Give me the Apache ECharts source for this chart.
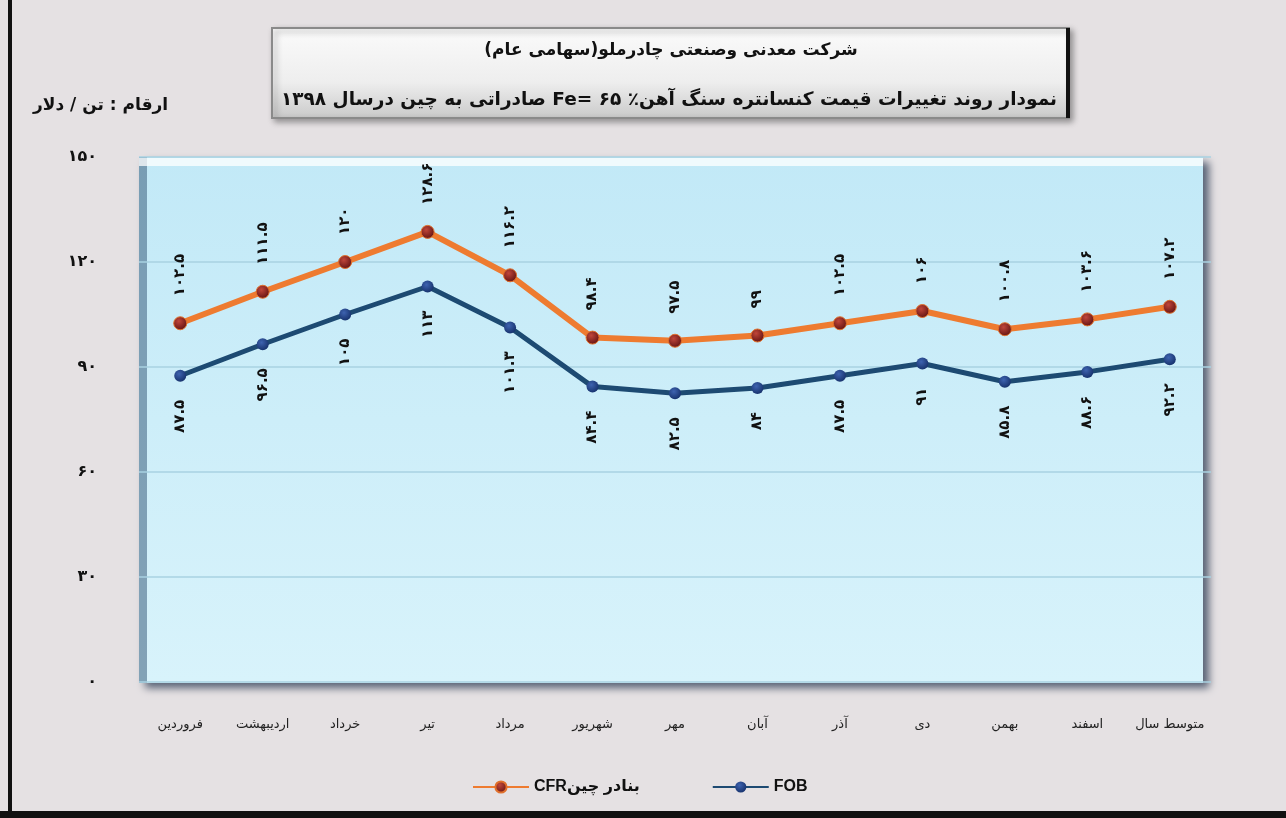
<!DOCTYPE html>
<html>
<head>
<meta charset="utf-8">
<script src="https://cdn.jsdelivr.net/npm/echarts@6/dist/echarts.min.js"></script>
<style>
  html, body { margin: 0; padding: 0; background: #e5e1e3; }
  #chart { width: 1286px; height: 818px; }
</style>
</head>
<body>
<div id="chart"></div>
<script>
// data (1398, iron ore concentrate price, $/t)
const categories = ['فروردین', 'اردیبهشت', 'خرداد', 'تیر', 'مرداد', 'شهریور', 'مهر', 'آبان', 'آذر', 'دی', 'بهمن', 'اسفند', 'متوسط سال'];
const cfrValues = [102.5, 111.5, 120, 128.6, 116.2, 98.4, 97.5, 99, 102.5, 106, 100.8, 103.6, 107.2];
const fobValues = [87.5, 96.5, 105, 113, 101.3, 84.4, 82.5, 84, 87.5, 91, 85.8, 88.6, 92.2];
const cfrName = 'بنادر چینCFR';
const fobName = 'FOB';
const titleLine1 = 'شرکت معدنی وصنعتی چادرملو(سهامی عام)';
const titleLine2 = 'نمودار روند تغییرات قیمت کنسانتره سنگ آهن٪ ۶۵ =Fe صادراتی به چین درسال ۱۳۹۸';
const unitText = 'ارقام : تن / دلار';

const FA = '۰۱۲۳۴۵۶۷۸۹';
function toFa(v) {
  return String(v).replace(/\d/g, function (d) { return FA[d]; });
}
// right-to-left embedding for mixed Persian/Latin strings
function rtl(s) {
  return '\u202B' + s + '\u202C';
}

const faFont = "'DejaVu Sans', sans-serif";

var chart = echarts.init(document.getElementById('chart'));

var option = {
  backgroundColor: '#e5e1e3',
  animation: false,
  textStyle: { fontFamily: faFont },
  grid: { left: 139, right: 75, top: 157, bottom: 136 },
  legend: {
    data: [rtl(cfrName), fobName],
    left: 467,
    top: 774,
    itemWidth: 56,
    itemHeight: 14,
    itemGap: 72,
    textStyle: { fontSize: 16, fontWeight: 'bold', color: '#111', fontFamily: "'Liberation Sans', 'DejaVu Sans', sans-serif" }
  },
  graphic: [
    // page frame
    { type: 'rect', z: -10, shape: { x: 8, y: 0, width: 4, height: 818 }, style: { fill: '#111' } },
    { type: 'rect', z: -10, shape: { x: 0, y: 811, width: 1286, height: 7 }, style: { fill: '#111' } },
    // plot panel
    {
      type: 'rect', z: -5,
      shape: { x: 139, y: 157, width: 1064, height: 526 },
      style: {
        fill: new echarts.graphic.LinearGradient(0, 0, 0, 1, [
          { offset: 0, color: '#c2e9f7' },
          { offset: 1, color: '#d8f3fb' }
        ]),
        shadowBlur: 8, shadowOffsetX: 6, shadowOffsetY: 5, shadowColor: 'rgba(40,55,80,0.75)'
      }
    },
    { type: 'rect', z: -4, shape: { x: 139, y: 157, width: 8, height: 526 }, style: { fill: 'rgba(60,95,125,0.55)' } },
    { type: 'rect', z: -4, shape: { x: 139, y: 158, width: 1064, height: 8 }, style: { fill: 'rgba(255,255,255,0.75)' } },
    // title box
    {
      type: 'rect', z: 5,
      shape: { x: 272, y: 28, width: 797, height: 90 },
      style: {
        fill: new echarts.graphic.LinearGradient(0, 0, 0, 1, [
          { offset: 0, color: '#fbfbfb' },
          { offset: 0.6, color: '#eeeeee' },
          { offset: 1, color: '#c9c9c9' }
        ]),
        stroke: '#8a8a8a', lineWidth: 2,
        shadowBlur: 6, shadowOffsetX: 3, shadowOffsetY: 3, shadowColor: 'rgba(0,0,0,0.35)'
      }
    },
    { type: 'rect', z: 6, shape: { x: 1066, y: 28, width: 4, height: 90 }, style: { fill: '#111' } },
    {
      type: 'text', z: 7, x: 671, y: 51,
      style: { text: rtl(titleLine1), fill: '#111', font: 'bold 17px ' + faFont, align: 'center', verticalAlign: 'middle' }
    },
    {
      type: 'text', z: 7, x: 669, y: 100,
      style: { text: rtl(titleLine2), fill: '#111', font: 'bold 18.5px ' + faFont, align: 'center', verticalAlign: 'middle' }
    },
    // unit note above the y axis
    {
      type: 'text', z: 7, x: 33, y: 106,
      style: { text: rtl(unitText), fill: '#111', font: 'bold 17px ' + faFont, align: 'left', verticalAlign: 'middle' }
    }
  ],
  xAxis: {
    type: 'category',
    data: categories,
    boundaryGap: true,
    axisLine: { show: false },
    axisTick: { show: false },
    axisLabel: {
      margin: 36,
      fontSize: 13,
      color: '#222',
      interval: 0
    }
  },
  yAxis: {
    type: 'value',
    min: 0,
    max: 150,
    interval: 30,
    axisLine: { show: false },
    axisTick: { show: false },
    axisLabel: {
      margin: 42,
      fontSize: 16,
      fontWeight: 'bold',
      color: '#111',
      formatter: function (v) { return toFa(v); }
    },
    splitLine: { lineStyle: { color: '#a9d2e2', width: 1.5 } }
  },
  series: [
    {
      name: rtl(cfrName),
      type: 'line',
      data: cfrValues,
      symbol: 'circle',
      symbolSize: 13,
      lineStyle: { color: '#ee7b30', width: 6 },
      itemStyle: {
        color: new echarts.graphic.RadialGradient(0.4, 0.35, 0.7, [
          { offset: 0, color: '#c0463a' },
          { offset: 1, color: '#5e1010' }
        ]),
        borderColor: '#e0702c', borderWidth: 1
      },
      label: {
        show: true,
        position: 'top',
        distance: 20,
        rotate: 90,
        align: 'left',
        verticalAlign: 'middle',
        fontSize: 15,
        fontWeight: 'bold',
        color: '#111',
        formatter: function (p) { return toFa(p.value); }
      },
      z: 4
    },
    {
      name: fobName,
      type: 'line',
      data: fobValues,
      symbol: 'circle',
      symbolSize: 12,
      lineStyle: { color: '#1d4a72', width: 5 },
      itemStyle: {
        color: new echarts.graphic.RadialGradient(0.4, 0.35, 0.7, [
          { offset: 0, color: '#3e63b0' },
          { offset: 1, color: '#15306a' }
        ])
      },
      label: {
        show: true,
        position: 'bottom',
        distance: 18,
        rotate: 90,
        align: 'right',
        verticalAlign: 'middle',
        fontSize: 15,
        fontWeight: 'bold',
        color: '#111',
        formatter: function (p) { return toFa(p.value); }
      },
      z: 3
    }
  ]
};

chart.setOption(option);
</script>
</body>
</html>
